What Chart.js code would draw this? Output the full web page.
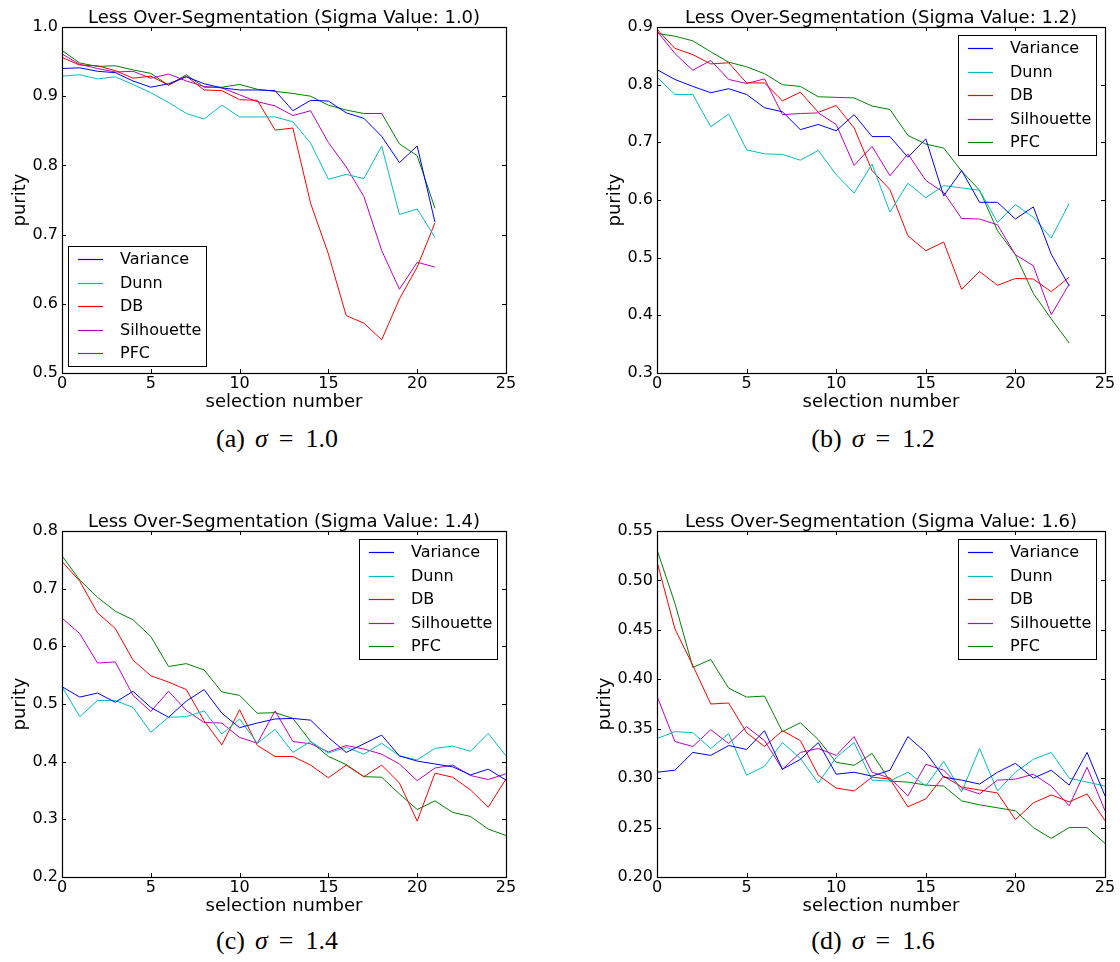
<!DOCTYPE html>
<html>
<head>
<meta charset="utf-8">
<script src="https://cdn.jsdelivr.net/npm/chart.js@4.4.0/dist/chart.umd.min.js"></script>
<style>
  body { margin: 0; background: #fff; width: 1120px; height: 962px; position: relative; overflow: hidden; }
  canvas { position: absolute; }
  .cap { position: absolute; width: 400px; text-align: center; white-space: nowrap;
         font-family: "Liberation Serif", serif; font-size: 26px; line-height: 26px; color: #000; }
  .cap i { margin: 0 11px 0 10px; }
  .cap .eq { margin-right: 12px; }
</style>
</head>
<body>
<canvas id="chartA" width="540" height="420" style="left:0;top:0"></canvas>
<canvas id="chartB" width="525" height="420" style="left:595px;top:0"></canvas>
<canvas id="chartC" width="540" height="420" style="left:0;top:504px"></canvas>
<canvas id="chartD" width="525" height="420" style="left:595px;top:504px"></canvas>
<div class="cap" style="left:77px;top:426px">(a)<i>σ</i><span class="eq">=</span>1.0</div>
<div class="cap" style="left:673px;top:426px">(b)<i>σ</i><span class="eq">=</span>1.2</div>
<div class="cap" style="left:77px;top:928px">(c)<i>σ</i><span class="eq">=</span>1.4</div>
<div class="cap" style="left:673px;top:928px">(d)<i>σ</i><span class="eq">=</span>1.6</div>
<script>
const methods = ["Variance", "Dunn", "DB", "Silhouette", "PFC"];
const colors = ["#0000ff", "#00bfbf", "#ff0000", "#bf00bf", "#008000"];

// sigma 1.0
const aVariance = [0.940,0.941,0.936,0.934,0.922,0.913,0.918,0.928,0.918,0.912,0.909,0.909,0.908,0.879,0.894,0.893,0.876,0.868,0.842,0.804,0.828,0.718];
const aDunn = [0.929,0.931,0.925,0.928,0.917,0.905,0.891,0.875,0.867,0.887,0.870,0.870,0.870,0.863,0.832,0.780,0.787,0.781,0.828,0.729,0.737,0.696];
const aDB = [0.956,0.945,0.944,0.937,0.926,0.929,0.916,0.929,0.909,0.908,0.895,0.894,0.851,0.854,0.745,0.672,0.583,0.572,0.548,0.607,0.653,0.717];
const aSilhouette = [0.961,0.946,0.940,0.935,0.936,0.926,0.932,0.922,0.914,0.912,0.902,0.892,0.886,0.872,0.879,0.833,0.798,0.755,0.677,0.621,0.660,0.653];
const aPFC = [0.966,0.948,0.943,0.944,0.938,0.933,0.916,0.931,0.913,0.913,0.917,0.910,0.907,0.904,0.900,0.887,0.880,0.875,0.875,0.831,0.814,0.738];

// sigma 1.2
const bVariance = [0.826,0.809,0.797,0.786,0.793,0.783,0.760,0.753,0.722,0.731,0.720,0.748,0.710,0.710,0.674,0.706,0.607,0.651,0.596,0.596,0.567,0.588,0.506,0.451];
const bDunn = [0.813,0.783,0.783,0.727,0.749,0.687,0.680,0.679,0.669,0.686,0.644,0.612,0.662,0.579,0.629,0.604,0.625,0.621,0.617,0.561,0.592,0.570,0.534,0.594];
const bDB = [0.896,0.863,0.852,0.836,0.838,0.803,0.803,0.772,0.787,0.752,0.764,0.725,0.651,0.618,0.538,0.512,0.527,0.445,0.476,0.452,0.464,0.463,0.441,0.466];
const bSilhouette = [0.893,0.854,0.825,0.842,0.809,0.802,0.810,0.748,0.750,0.751,0.731,0.660,0.693,0.642,0.680,0.634,0.613,0.568,0.567,0.557,0.505,0.486,0.401,0.454];
const bPFC = [0.889,0.884,0.876,0.857,0.839,0.831,0.819,0.800,0.797,0.779,0.778,0.777,0.763,0.757,0.712,0.697,0.690,0.650,0.617,0.547,0.505,0.438,0.394,0.352];

// sigma 1.4
const cVariance = [0.530,0.512,0.519,0.503,0.522,0.494,0.477,0.505,0.525,0.484,0.459,0.467,0.474,0.475,0.472,0.442,0.416,0.431,0.446,0.410,0.401,0.396,0.391,0.377,0.387,0.368];
const cDunn = [0.530,0.478,0.506,0.506,0.494,0.451,0.477,0.478,0.488,0.448,0.474,0.432,0.456,0.416,0.435,0.415,0.425,0.413,0.432,0.410,0.403,0.423,0.427,0.418,0.449,0.410];
const cDB = [0.747,0.713,0.658,0.631,0.576,0.549,0.538,0.525,0.471,0.429,0.490,0.428,0.409,0.409,0.394,0.372,0.394,0.374,0.394,0.363,0.297,0.380,0.373,0.351,0.321,0.370];
const cSilhouette = [0.649,0.622,0.571,0.573,0.515,0.487,0.522,0.489,0.468,0.467,0.442,0.432,0.488,0.435,0.431,0.417,0.428,0.422,0.413,0.396,0.367,0.389,0.394,0.376,0.369,0.379];
const cPFC = [0.757,0.715,0.685,0.661,0.646,0.617,0.565,0.570,0.559,0.521,0.515,0.484,0.485,0.475,0.435,0.409,0.395,0.374,0.373,0.344,0.317,0.332,0.312,0.305,0.283,0.272];

// sigma 1.6
const dVariance = [0.306,0.308,0.326,0.323,0.333,0.329,0.348,0.309,0.319,0.336,0.304,0.306,0.302,0.308,0.342,0.326,0.301,0.298,0.294,0.306,0.315,0.300,0.308,0.293,0.326,0.282];
const dDunn = [0.340,0.347,0.346,0.330,0.345,0.303,0.312,0.336,0.320,0.295,0.321,0.336,0.298,0.297,0.306,0.292,0.317,0.286,0.330,0.287,0.306,0.319,0.326,0.300,0.296,0.292];
const dDB = [0.519,0.451,0.414,0.375,0.376,0.346,0.332,0.348,0.338,0.303,0.290,0.287,0.301,0.299,0.271,0.279,0.302,0.291,0.288,0.285,0.258,0.275,0.283,0.276,0.284,0.257];
const dSilhouette = [0.383,0.337,0.332,0.349,0.335,0.352,0.338,0.309,0.326,0.330,0.323,0.342,0.306,0.300,0.282,0.314,0.308,0.290,0.284,0.298,0.299,0.304,0.292,0.272,0.311,0.267];
const dPFC = [0.531,0.477,0.412,0.420,0.391,0.382,0.383,0.347,0.356,0.339,0.316,0.313,0.325,0.297,0.296,0.293,0.292,0.277,0.273,0.270,0.267,0.250,0.239,0.250,0.250,0.234];

Chart.defaults.font.family = '"DejaVu Sans"';
Chart.defaults.font.size = 16;
Chart.defaults.color = '#000';

// border, inward ticks, legend box, title and axis labels
const frame = {
    id: 'frame',
    afterDatasetsDraw(chart, args, opts) {
        const ctx = chart.ctx;
        const a = chart.chartArea;
        const x = chart.scales.x, y = chart.scales.y;
        ctx.save();
        ctx.strokeStyle = '#000';
        ctx.lineWidth = 1;

        ctx.beginPath();
        x.ticks.forEach(t => {
            const px = Math.round(x.getPixelForValue(t.value)) + 0.5;
            ctx.moveTo(px, a.bottom); ctx.lineTo(px, a.bottom - 4);
            ctx.moveTo(px, a.top); ctx.lineTo(px, a.top + 4);
        });
        y.ticks.forEach(t => {
            const py = Math.round(y.getPixelForValue(t.value)) + 0.5;
            ctx.moveTo(a.left, py); ctx.lineTo(a.left + 4, py);
            ctx.moveTo(a.right, py); ctx.lineTo(a.right - 4, py);
        });
        ctx.stroke();

        // legend
        const w = 138, h = 120;
        let lx, ly;
        if (opts.legendAt === 'bottomleft') {
            lx = a.left + 6; ly = a.bottom - 7 - h;
        } else {
            lx = a.right - 9 - w; ly = a.top + 8;
        }
        ctx.fillStyle = '#fff';
        ctx.fillRect(lx, ly, w, h);
        ctx.strokeRect(Math.round(lx) + 0.5, Math.round(ly) + 0.5, w, h);
        ctx.font = '16px "DejaVu Sans"';
        ctx.textBaseline = 'middle';
        ctx.textAlign = 'left';
        chart.data.datasets.forEach((ds, i) => {
            const ry = Math.round(ly + 13 + i * 23.5) + 0.5;
            ctx.strokeStyle = ds.borderColor;
            ctx.lineWidth = 1.2;
            ctx.beginPath();
            ctx.moveTo(lx + 10, ry); ctx.lineTo(lx + 35, ry);
            ctx.stroke();
            ctx.fillStyle = '#000';
            ctx.fillText(ds.label, lx + 52, ry);
        });

        ctx.strokeStyle = '#000';
        ctx.lineWidth = 1.2;
        ctx.strokeRect(a.left + 0.5, a.top + 0.5, a.right - a.left, a.bottom - a.top);

        ctx.fillStyle = '#000';
        ctx.font = '18px "DejaVu Sans"';
        ctx.textAlign = 'center';
        ctx.textBaseline = 'alphabetic';
        const cx = (a.left + a.right) / 2;
        ctx.fillText(opts.title, cx, a.top - 4);
        ctx.fillText('selection number', cx, a.bottom + 34);
        ctx.translate(opts.labelX, (a.top + a.bottom) / 2);
        ctx.rotate(-Math.PI / 2);
        ctx.textBaseline = 'middle';
        ctx.fillText('purity', 0, 0);
        ctx.restore();
    }
};

function makeChart(id, sigma, series, yMin, yMax, yStep, digits, rightPad, legendAt) {
    new Chart(document.getElementById(id), {
        type: 'line',
        data: {
            datasets: series.map((vals, k) => ({
                label: methods[k],
                data: vals.map((v, i) => ({x: i, y: v})),
                borderColor: colors[k],
                borderWidth: 1,
                pointRadius: 0,
                fill: false,
                tension: 0
            }))
        },
        options: {
            responsive: false,
            animation: false,
            devicePixelRatio: 1,
            layout: {padding: {left: 0, top: 27, right: rightPad, bottom: 22}},
            scales: {
                x: {
                    type: 'linear', min: 0, max: 25,
                    ticks: {stepSize: 5, padding: 1},
                    grid: {display: false, drawTicks: false}, border: {display: false},
                    afterFit: s => { s.height = 25; }
                },
                y: {
                    min: yMin, max: yMax,
                    ticks: {stepSize: yStep, padding: 4, callback: v => v.toFixed(digits)},
                    grid: {display: false, drawTicks: false}, border: {display: false},
                    afterFit: s => { s.width = 62; }
                }
            },
            plugins: {
                legend: {display: false},
                tooltip: {enabled: false},
                frame: {
                    title: `Less Over-Segmentation (Sigma Value: ${sigma})`,
                    legendAt: legendAt,
                    labelX: digits > 1 ? 10 : 20
                }
            }
        },
        plugins: [frame]
    });
}

makeChart("chartA", "1.0", [aVariance, aDunn, aDB, aSilhouette, aPFC], 0.5, 1.0, 0.1, 1, 34, 'bottomleft');
makeChart("chartB", "1.2", [bVariance, bDunn, bDB, bSilhouette, bPFC], 0.3, 0.9, 0.1, 1, 15, 'topright');
makeChart("chartC", "1.4", [cVariance, cDunn, cDB, cSilhouette, cPFC], 0.2, 0.8, 0.1, 1, 34, 'topright');
makeChart("chartD", "1.6", [dVariance, dDunn, dDB, dSilhouette, dPFC], 0.2, 0.55, 0.05, 2, 15, 'topright');
</script>
</body>
</html>
